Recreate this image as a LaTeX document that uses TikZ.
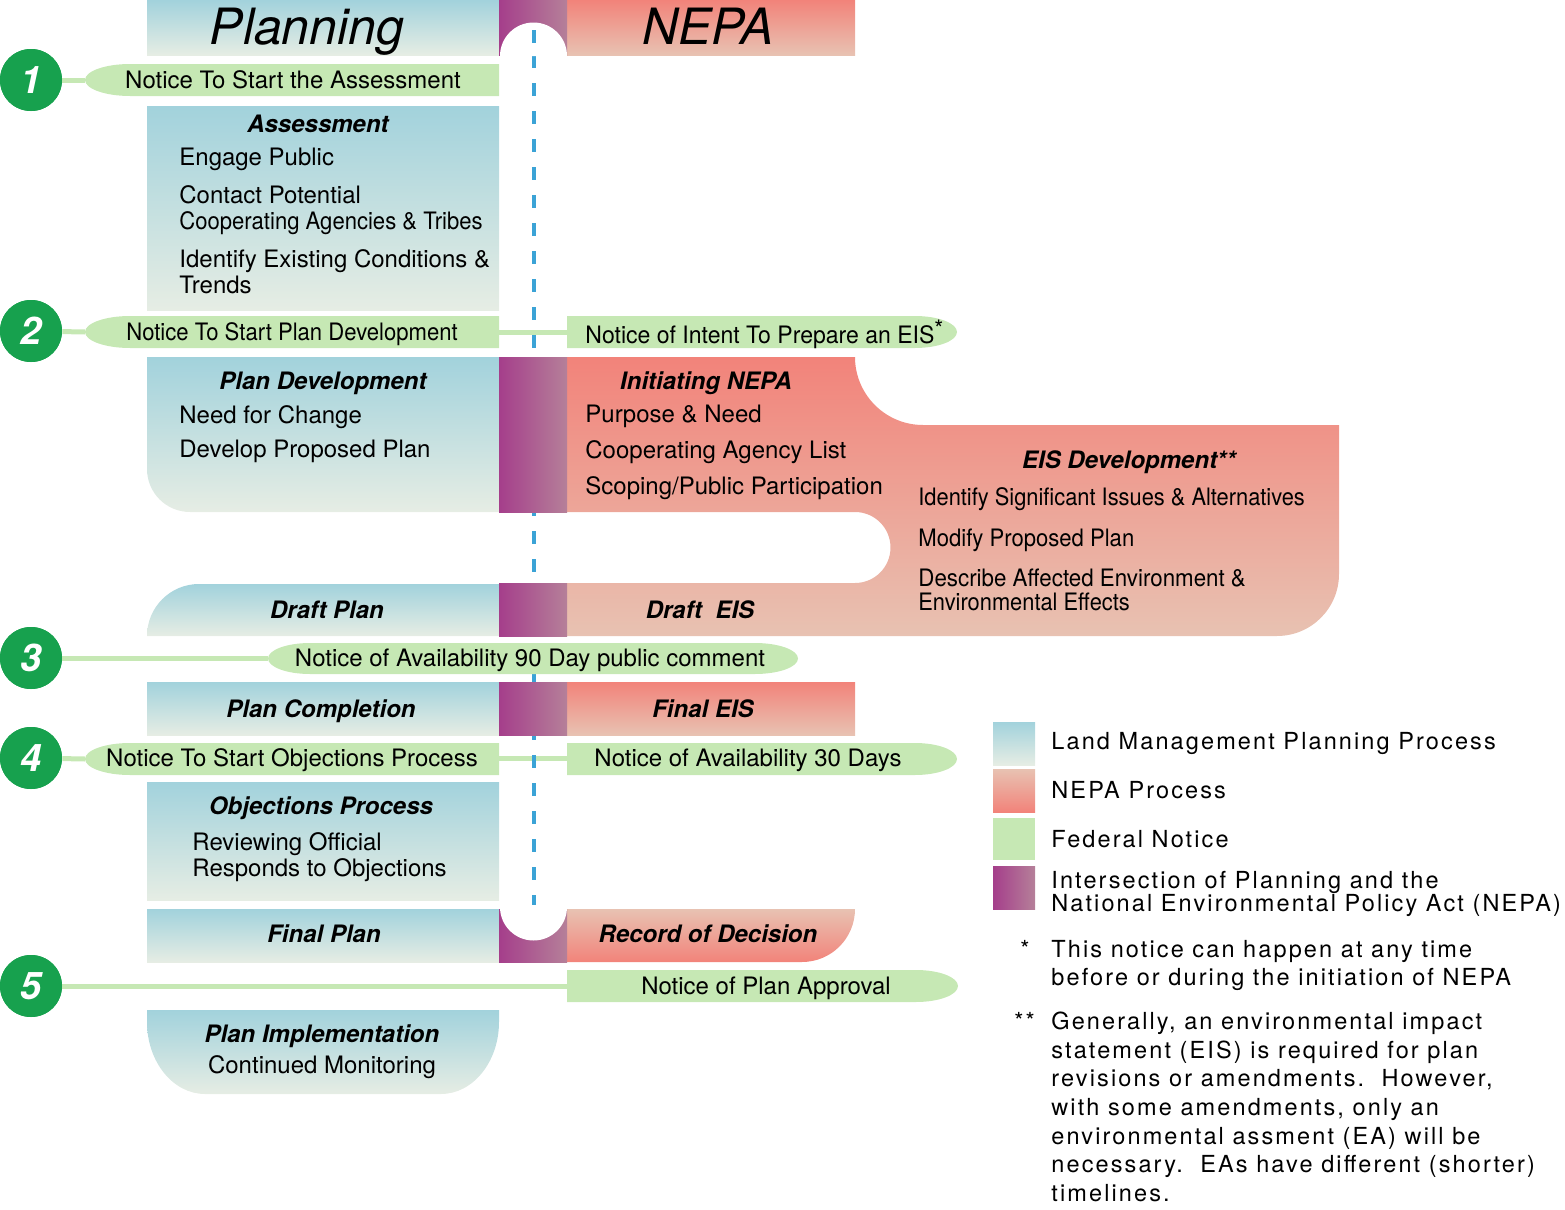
\documentclass[tikz,border=0pt]{standalone}
\usepackage{graphicx}
\usepackage{fontspec}
\setmainfont{TeX Gyre Heros}
\newfontfamily\legendfont[LetterSpace=9]{TeX Gyre Heros}
\newcommand{\condtext}[2][0.92]{\scalebox{#1}[1]{#2}}
\definecolor{blueTop}{HTML}{A2D2DC}
\definecolor{blueBot}{HTML}{E6EDE4}
\definecolor{pinkTop}{HTML}{F2837A}
\definecolor{pinkBot}{HTML}{E8C2B2}
\definecolor{purpleL}{HTML}{A53E8B}
\definecolor{purpleR}{HTML}{B58099}
\definecolor{greenN}{HTML}{C6E8B4}
\definecolor{greenC}{HTML}{17A14E}
\definecolor{dashBlue}{HTML}{3BA3D6}
\tikzset{
  bluegrad/.style={top color=blueTop, bottom color=blueBot},
  pinkgrad/.style={top color=pinkTop, bottom color=pinkBot},
  pinkrev/.style={top color=pinkBot, bottom color=pinkTop},
  purpgrad/.style={left color=purpleL, right color=purpleR},
  notice/.style={fill=greenN},
  gline/.style={draw=greenN, line width=2.5pt},
  numcirc/.style={circle, fill=greenC, minimum size=31pt, inner sep=0pt, text=white,
    font=\fontsize{19}{19}\selectfont\bfseries\itshape},
  txt/.style={anchor=base west, inner sep=0pt, font=\fontsize{12}{14}\selectfont},
  ctxt/.style={anchor=base, inner sep=0pt, font=\fontsize{12}{14}\selectfont},
  ttl/.style={anchor=base, inner sep=0pt, font=\fontsize{12}{14}\selectfont\bfseries\itshape},
  hdr/.style={anchor=base, inner sep=0pt, font=\fontsize{25}{28}\selectfont\itshape},
  leg/.style={anchor=base west, inner sep=0pt, font=\legendfont\fontsize{11.75}{12}\selectfont},
  dashline/.style={draw=dashBlue, line width=2pt, dash pattern=on 6.5pt off 7.5pt},
}
\begin{document}
\begin{tikzpicture}[x=0.5pt,y=-0.5pt]
\useasboundingbox (0,0) rectangle (1565,1210);

% ---------- planning column (blue) ----------
\shade[bluegrad] (147,0) rectangle (499,55);
\shade[bluegrad] (147,106) rectangle (499,310);
\shade[bluegrad] (147,357) -- (499,357) -- (499,512) -- (190,512)
   arc[start angle=90,end angle=180,radius=43] -- cycle;
\shade[bluegrad] (147,636) arc[start angle=180,end angle=270,radius=52] -- (499,584) -- (499,636) -- cycle;
\shade[bluegrad] (147,682) rectangle (499,735);
\shade[bluegrad] (147,782) rectangle (499,900);
\shade[bluegrad] (147,909) rectangle (499,962);
\shade[bluegrad] (147,1010) -- (499,1010) -- (499,1022)
   arc[start angle=0,end angle=90,x radius=58,y radius=72] -- (205,1094)
   arc[start angle=90,end angle=180,x radius=58,y radius=72] -- cycle;

% ---------- NEPA column (pink) ----------
\shade[pinkgrad] (567,0) rectangle (855,55);
\shade[pinkgrad] (567,357) -- (855,357)
   arc[start angle=180,end angle=90,radius=68] -- (1339,425) -- (1339,574)
   arc[start angle=0,end angle=90,radius=62] -- (567,636) -- (567,583) -- (855,583)
   arc[start angle=90,end angle=-90,radius=35.5] -- (567,512) -- cycle;
\shade[pinkgrad] (567,682) rectangle (855,735);
\shade[pinkrev] (567,909) -- (855,909) arc[start angle=0,end angle=90,radius=53] -- (567,962) -- cycle;

% ---------- connector lines ----------
\node[numcirc] (c1) at (31,80) {1};
\node[numcirc] (c2) at (31,331) {2};
\node[numcirc] (c3) at (31,658) {3};
\node[numcirc] (c4) at (31,758) {4};
\node[numcirc] (c5) at (31,986) {5};
\coordinate (t1) at (85,80);
\coordinate (t2) at (85,332);
\coordinate (t3) at (268,658);
\coordinate (t4) at (85,759);
\coordinate (t5) at (567,986);
\coordinate (m2a) at (499,332);
\coordinate (m2b) at (567,332);
\coordinate (m4a) at (499,758);
\coordinate (m4b) at (567,758);
\draw[gline] (c1) -- (t1);
\draw[gline] (c2) -- (t2);
\draw[gline] (c3) -- (t3);
\draw[gline] (c4) -- (t4);
\draw[gline] (c5) -- (t5);
\draw[gline] (m2a) -- (m2b);
\draw[gline] (m4a) -- (m4b);
% redraw circles on top of the lines
\node[numcirc] at (c1) {1};
\node[numcirc] at (c2) {2};
\node[numcirc] at (c3) {3};
\node[numcirc] at (c4) {4};
\node[numcirc] at (c5) {5};

% ---------- dashed centre line ----------
\coordinate (d0) at (534,55);
\coordinate (d1) at (534,905);
\draw[dashline] (d0) -- (d1);

% ---------- intersection column (purple) ----------
\shade[purpgrad] (499,0) rectangle (567,55);
\fill[white] (500,56) arc[start angle=180,end angle=360,radius=33.5] -- cycle;
\shade[purpgrad] (499,357) rectangle (567,512);
\shade[purpgrad] (499,583) rectangle (567,636);
\shade[purpgrad] (499,682) rectangle (567,735);
\shade[purpgrad] (499,909) rectangle (567,962);
\fill[white] (500,907) arc[start angle=180,end angle=0,radius=33.5] -- cycle;
\draw[dashline] (534,30) -- (534,55);

% ---------- federal notices (green) ----------
\fill[notice] (499,64) -- (130,64) arc[start angle=270,end angle=90,x radius=45,y radius=16] -- (499,96) -- cycle;
\fill[notice] (499,316) -- (130,316) arc[start angle=270,end angle=90,x radius=45,y radius=16] -- (499,348) -- cycle;
\fill[notice] (567,316) -- (915,316) arc[start angle=270,end angle=450,x radius=42,y radius=16] -- (567,348) -- cycle;
\fill[notice] (310,643) -- (755,643) arc[start angle=270,end angle=450,x radius=43,y radius=15.5]
   -- (310,674) arc[start angle=90,end angle=270,x radius=42,y radius=15.5] -- cycle;
\fill[notice] (499,743) -- (130,743) arc[start angle=270,end angle=90,x radius=45,y radius=16] -- (499,775) -- cycle;
\fill[notice] (567,743) -- (915,743) arc[start angle=270,end angle=450,x radius=42,y radius=16] -- (567,775) -- cycle;
\fill[notice] (567,970) -- (916,970) arc[start angle=270,end angle=450,x radius=42,y radius=16] -- (567,1002) -- cycle;

% ---------- texts ----------
\node[hdr] (hplan) at (307,45) {Planning};
\node[hdr] (hnepa) at (708,45) {NEPA};

\node[ctxt] (n1) at (293,88) {Notice To Start the Assessment};
\node[ttl] (assess) at (318,132) {Assessment};
\node[txt] (a1) at (179,165) {Engage Public};
\node[txt] (a2) at (179,203) {Contact Potential};
\node[txt] (a3) at (179,229) {\condtext{Cooperating Agencies \& Tribes}};
\node[txt] (a4) at (179,267) {Identify Existing Conditions \&};
\node[txt] (a5) at (179,293) {Trends};

\node[ctxt] (n2) at (292,340) {\condtext{Notice To Start Plan Development}};
\node[txt] (n2r) at (585,343) {\condtext[0.96]{Notice of Intent To Prepare an EIS\raisebox{0.45ex}{*}}};

\node[ttl] (pdev) at (323,389) {Plan Development};
\node[txt] (p1) at (179,423) {Need for Change};
\node[txt] (p2) at (179,457) {Develop Proposed Plan};

\node[ttl] (init) at (706,389) {Initiating NEPA};
\node[txt] (i1) at (585,422) {Purpose \& Need};
\node[txt] (i2) at (585,458) {Cooperating Agency List};
\node[txt] (i3) at (585,494) {Scoping/Public Participation};

\node[ttl] (eis) at (1129,468) {EIS Development**};
\node[txt] (e1) at (918,505) {\condtext[0.91]{Identify Significant Issues \& Alternatives}};
\node[txt] (e2) at (918,546) {\condtext{Modify Proposed Plan}};
\node[txt] (e3) at (918,586) {\condtext[0.93]{Describe Affected Environment \&}};
\node[txt] (e4) at (918,610) {\condtext[0.91]{Environmental Effects}};

\node[ttl] (dplan) at (327,618) {Draft Plan};
\node[ttl] (deis) at (700,618) {Draft\ \ EIS};

\node[ctxt] (n3) at (530,666) {Notice of Availability 90 Day public comment};

\node[ttl] (pcomp) at (321,717) {Plan Completion};
\node[ttl] (feis) at (703,717) {Final EIS};

\node[ctxt] (n4) at (292,766) {Notice To Start Objections Process};
\node[ctxt] (n4r) at (748,766) {Notice of Availability 30 Days};

\node[ttl] (obj) at (321,814) {Objections Process};
\node[txt] (o1) at (192,850) {Reviewing Official};
\node[txt] (o2) at (192,876) {Responds to Objections};

\node[ttl] (fplan) at (324,942) {Final Plan};
\node[ttl] (rod) at (708,942) {Record of Decision};

\node[ctxt] (n5) at (766,994) {Notice of Plan Approval};

\node[ttl] (pimp) at (322,1042) {Plan Implementation};
\node[ctxt] (pimp1) at (322,1073) {Continued Monitoring};

% ---------- legend ----------
\shade[bluegrad] (993,722) rectangle (1035,765);
\shade[pinkrev] (993,769) rectangle (1035,812);
\fill[greenN] (993,818) rectangle (1035,860);
\shade[purpgrad] (993,866) rectangle (1035,909);
\node[leg] (l1) at (1051,749) {Land Management Planning Process};
\node[leg] (l2) at (1051,798) {NEPA Process};
\node[leg] (l3) at (1051,847) {Federal Notice};
\node[leg] (l4) at (1051,888) {Intersection of Planning and the};
\node[leg] (l5) at (1051,911) {National Environmental Policy Act (NEPA)};

\node[leg] (s1) at (1020,957) {*};
\node[leg] (f1) at (1051,957) {This notice can happen at any time};
\node[leg] (f2) at (1051,985) {before or during the initiation of NEPA};
\node[leg] (s2) at (1014,1029) {**};
\node[leg] (g1) at (1051,1029) {Generally, an environmental impact};
\node[leg] (g2) at (1051,1058) {statement (EIS) is required for plan};
\node[leg] (g3) at (1051,1086) {revisions or amendments.\ \ However,};
\node[leg] (g4) at (1051,1115) {with some amendments, only an};
\node[leg] (g5) at (1051,1144) {environmental assment (EA) will be};
\node[leg] (g6) at (1051,1172) {necessary.\ \ EAs have different (shorter)};
\node[leg] (g7) at (1051,1201) {timelines.};
\end{tikzpicture}
\end{document}
